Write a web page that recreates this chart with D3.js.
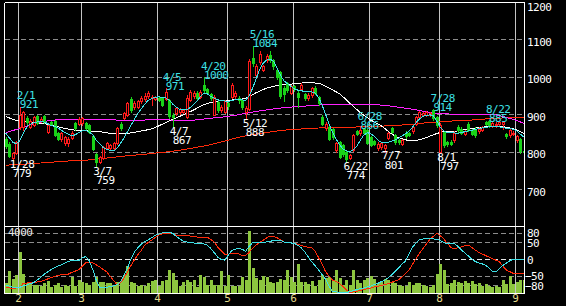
<!DOCTYPE html>
<html><head><meta charset="utf-8">
<script src="https://cdn.jsdelivr.net/npm/d3@7"></script>
<style>html,body{margin:0;padding:0;background:#000;overflow:hidden}svg{display:block}</style>
</head><body><svg id="c" width="566" height="306"></svg>
<script>
// ---- DATA ----
const tradingDays = [
  [1,[26,27,28,31]],
  [2,[1,2,3,4,7,8,9,10,14,15,16,17,18,21,22,24,25,28]],
  [3,[1,2,3,4,7,8,9,10,11,14,15,16,17,18,22,23,24,25,28,29,30,31]],
  [4,[1,4,5,6,7,8,11,12,13,14,15,18,19,20,21,22,25,26,27,28]],
  [5,[2,6,9,10,11,12,13,16,17,18,19,20,23,24,25,26,27,30,31]],
  [6,[1,2,3,6,7,8,9,10,13,14,15,16,17,20,21,22,23,24,27,28,29,30]],
  [7,[1,4,5,6,7,8,11,12,13,14,15,19,20,21,22,25,26,27,28,29]],
  [8,[1,2,3,4,5,8,9,10,12,15,16,17,18,19,22,23,24,25,26,29,30,31]],
  [9,[1,2,5]]
];
const open = [835,822,785,797,868,866,890,867,872,896,883,896,853,880,882,850,835,823,825,838,877,875,
 877,877,872,843,795,774,784,812,810,812,824,875,891,899,941,919,921,935,941,949,945,942,
 945,943,942,940,900,904,906,908,892,939,950,958,948,980,968,955,900,934,912,908,
 930,947,950,945,939,907,915,1050,1005,1040,1020,1045,1058,1045,1019,1014,970,985,958,
 975,958,968,955,944,952,970,947,894,863,867,862,805,827,819,800,784,806,855,850,862,860,
 840,830,812,814,810,838,864,845,832,822,852,850,855,874,892,898,898,899,912,894,
 800,854,826,828,832,866,862,848,876,858,862,855,858,880,882,870,872,874,876,849,845,848,832,836,804];
const close = [815,790,797,826,900,906,880,884,893,877,888,880,872,875,846,836,850,840,835,851,864,888,
 890,864,853,808,773,787,813,823,818,823,864,864,904,931,912,932,937,945,949,958,948,947,
 939,926,960,895,893,917,914,913,945,961,956,945,960,965,958,945,947,912,920,935,
 922,979,957,940,921,918,1042,1036,1030,1062,1028,1056,1045,1028,1001,950,955,965,975,
 968,947,979,944,952,970,958,930,876,876,836,840,823,787,795,780,792,845,848,860,852,825,
 818,822,822,824,818,850,853,826,826,833,842,845,867,893,906,905,906,905,890,872,
 872,818,820,822,852,858,852,855,860,848,845,862,866,876,872,878,876,880,879,843,859,852,842,802,800];
const high = [840,826,800,830,921,910,895,888,897,900,892,900,876,884,885,853,853,843,840,855,880,892,
 893,880,875,846,798,790,816,827,822,827,866,880,907,934,948,936,940,950,958,962,952,950,
 950,946,971,942,905,920,918,916,952,965,962,962,965,1000,972,958,952,937,924,940,
 935,985,962,950,942,922,1048,1084,1035,1068,1032,1060,1070,1048,1022,1016,975,988,980,
 980,962,983,958,956,974,975,950,898,880,870,865,826,830,822,805,796,848,860,866,865,863,
 843,833,826,828,822,853,867,848,835,836,855,853,870,896,910,908,909,908,914,897,
 878,857,830,832,856,872,866,858,880,862,866,866,870,884,885,882,880,884,884,852,863,856,845,838,808];
const low = [810,786,779,795,862,860,876,864,869,874,880,877,850,872,842,832,830,818,815,835,860,872,
 873,860,850,805,759,770,780,808,806,808,820,860,888,896,908,915,918,930,937,945,925,938,
 935,922,940,890,867,900,902,903,890,935,945,940,944,960,955,940,898,908,908,904,
 915,944,945,930,915,888,912,1030,1000,1035,1015,1040,1040,1022,995,945,935,960,955,
 962,921,965,940,940,948,955,926,872,860,832,836,800,784,790,774,780,803,845,846,848,820,
 815,818,805,808,801,835,850,822,822,818,838,842,852,871,888,895,895,896,886,868,
 797,814,816,818,828,854,848,845,856,844,841,850,855,872,868,866,868,870,862,838,840,844,828,798,796];
const volume = [645,1397,903,1182,2623,1247,645,688,537,537,473,645,752,387,537,645,387,537,473,1032,473,860,
 688,645,537,688,1032,688,688,645,645,473,688,752,1182,1720,688,645,473,537,473,645,752,817,
 473,752,860,1462,1290,860,473,688,817,688,817,387,1182,1032,537,860,537,537,1397,473,
 1182,473,473,473,1032,860,4020,1612,967,860,1075,1032,688,645,688,903,860,1462,1032,
 688,1892,688,688,602,752,473,860,1182,967,1032,860,1505,967,537,860,537,1505,860,645,817,967,
 1075,903,645,688,903,860,688,645,537,473,473,688,537,645,645,537,473,387,537,1247,
 1892,1505,602,645,817,688,645,752,645,752,602,645,473,602,473,387,473,387,817,602,1075,602,688,817,817];
// moving averages
const maShort = [850,838,826,822,830,850,866,874,878,880,881,880,876,871,868,864,858,852,847,843,846,852,
 856,858,853,846,832,822,812,807,804,803,810,823,838,854,871,888,903,916,928,938,943,946,
 947,946,944,938,928,920,914,912,913,918,926,936,948,957,955,948,943,939,937,936,
 935,937,940,940,939,938,950,970,995,1020,1036,1045,1048,1042,1025,1005,990,982,975,
 968,965,963,962,962,960,957,945,925,900,875,852,835,820,808,803,801,806,815,832,845,852,
 848,842,832,826,825,826,829,832,837,843,849,856,866,878,888,895,898,899,897,882,
 866,856,852,852,851,850,852,854,856,858,860,862,864,866,867,869,868,867,865,863,862,861,857,848,840];
const maSampleDays = [0,3,6,9,12,15,18,21,24,27,30,33,36,39,42,45,48,51,54,57,60,63,66,69,72,75,78,81,84,87,
 90,93,96,99,102,105,108,111,114,117,120,123,126,129,132,135,138,141,144,147,149];
const maMid = [895,884,880,878,874,867,861,857,856,854,850,849,851,856,862,874,887,899,912,926,
 934,938,939,944,958,970,977,980,983,985,983,970,955,930,905,885,870,848,835,830,
 835,846,854,855,860,864,867,869,866,859,850];
const maLong = [852,860,869,877,883,886,887,888,888,887,886,885,885,885,886,886,885,884,885,888,
 891,894,898,903,908,912,916,919,921,923,925,927,927,927,927,927,925,922,918,914,
 909,904,902,901,901,901,900,899,892,884,876];
const maVeryLong = [765,766,768,770,772,774,776,777,779,782,785,788,791,793,796,799,802,806,811,816,
 822,829,837,843,848,852,856,859,861,862,864,865,865,866,867,867,869,870,872,874,
 877,879,881,883,884,886,888,890,891,892,892];
// oscillators
const oscA = [-77,-80,-84,-84,-84,-80,-77,-73,-70,-62,-54,-45,-38,-31,-25,-20,-16,-11,-6,-2,
 -4,-3,5,9,-4,-30,-62,-84,-84,-84,-82,-80,-76,-67,-47,-25,2,23,36,47,
 54,60,66,73,77,80,83,82,79,70,62,56,53,51,50,49,48,47,43,33,
 20,7,0,-2,13,27,31,34,31,25,40,51,51,51,51,53,55,57,58,58,
 53,51,50,49,43,35,23,8,-7,-19,-32,-46,-60,-80,-97,-98,-99,-100,-100,-97,
 -94,-91,-88,-86,-83,-80,-76,-72,-67,-62,-55,-46,-36,-25,-14,-4,18,37,50,61,
 62,63,63,62,61,57,51,47,48,49,40,30,20,11,2,-6,-10,-13,-17,-26,
 -36,-37,-27,-18,-11,-4,1,1,1,1];
const oscB = [-84,-86,-87,-86,-84,-72,-71,-70,-70,-68,-66,-63,-59,-55,-51,-48,-46,-45,-44,-39,
 -35,-31,-20,-10,-8,-10,-16,-22,-30,-37,-50,-64,-76,-70,-56,-38,-18,-1,15,28,
 44,52,59,67,75,77,78,79,77,74,71,71,71,71,70,68,67,67,67,60,
 52,37,26,15,16,19,18,17,11,12,22,34,44,51,58,65,71,70,66,60,
 53,50,50,49,46,43,39,37,35,25,5,-15,-37,-50,-62,-67,-72,-82,-92,-100,
 -98,-96,-93,-91,-88,-86,-83,-81,-78,-76,-73,-69,-65,-61,-52,-42,-32,-14,2,19,
 33,47,61,70,79,72,62,49,37,32,35,38,41,44,37,29,22,17,12,7,
 2,-2,-7,-20,-32,-37,-42,-42,-42,-42];
const priceTicks = [1200,1100,1000,900,800,700];
const oscTicks = [80,50,0,-50,-80];
const highMarks = [["2/1",921],["4/5",971],["4/20",1000],["5/16",1084],["6/28",866],["7/28",914],["8/22",885]];
const lowMarks = [["1/28",779],["3/7",759],["4/7",867],["5/12",888],["6/22",774],["7/7",801],["8/1",797]];
const volumeLabel = "4000";

// ---- DERIVED ----
const dates = tradingDays.flatMap(([m, ds]) => ds.map(d => m + "/" + d));
const N = dates.length;
const monthStarts = tradingDays.slice(1).map(([m, ds]) => ({m, i: dates.indexOf(m + "/" + ds[0])}));

// ---- SCALES ----
const xb = d3.scaleBand().domain(d3.range(N)).range([4.1, 525.5]);
const bw = xb.bandwidth();
const cx = i => xb(i) + bw / 2;
const px = i => Math.round(cx(i));
const py = d3.scaleLinear().domain([600, 1200]).range([227, 2]);
const vy = d3.scaleLinear().domain([0, 4000]).range([293, 231]);
const oy = d3.scaleLinear().domain([-100, 100]).range([292.6, 226.4]);
const L = 4.5, R = 524.5, T = 2.5, MID = 226.5, B = 293.5;

const C = {red:"#ff1a1a", green:"#19d219", cyan:"#3ee0e6", white:"#ffffff",
  magenta:"#ff22ff", orange:"#ff2a0a", vol:"#8dc63f", grid:"#8c8c8c", month:"#c4c4c4", mlab:"#e6dc8c"};
const FONT = "DejaVu Sans Mono, monospace";
const FS = 11, LS = -0.5;

const svg = d3.select("#c");
svg.append("rect").attr("width", 566).attr("height", 306).attr("fill", "#000");
const defs = svg.append("defs");
defs.append("clipPath").attr("id","cp").append("rect").attr("x",L).attr("y",T).attr("width",R-L).attr("height",MID-T);
defs.append("clipPath").attr("id","cv").append("rect").attr("x",L).attr("y",MID).attr("width",R-L).attr("height",B-MID);

const g = svg.append("g").attr("shape-rendering", "crispEdges");

// grid
priceTicks.filter(p => p < 1200).forEach(p => {
  const y = Math.floor(py(p)) + 0.5;
  g.append("line").attr("x1", L).attr("x2", R).attr("y1", y).attr("y2", y)
    .attr("stroke", C.grid).attr("stroke-dasharray", "5,3");
});
oscTicks.forEach(v => {
  const y = Math.floor(oy(v)) + 0.5;
  g.append("line").attr("x1", L).attr("x2", R).attr("y1", y).attr("y2", y)
    .attr("stroke", v === 0 ? "#e8e8e8" : C.grid).attr("stroke-dasharray", "5,3");
});
// month lines
monthStarts.forEach(({i}) => {
  const x = Math.round(xb(i)) + 0.5;
  g.append("line").attr("x1", x).attr("x2", x).attr("y1", T).attr("y2", B).attr("stroke", C.month);
});

// volume
const gv = g.append("g").attr("clip-path", "url(#cv)");
volume.forEach((v, i) => {
  const y = Math.round(vy(v));
  gv.append("rect").attr("x", px(i) - 1).attr("y", y).attr("width", 3).attr("height", 293 - y).attr("fill", C.vol);
});
// oscillator lines
const oline = d3.line().x((d, i) => cx(i)).y(d => oy(d));
gv.append("path").attr("d", oline(oscB)).attr("fill", "none").attr("stroke", C.orange);
gv.append("path").attr("d", oline(oscA)).attr("fill", "none").attr("stroke", C.cyan);

// price panel
const gp = g.append("g").attr("clip-path", "url(#cp)");
const sline = d3.line().x(d => cx(d[0])).y(d => py(d[1])).curve(d3.curveMonotoneX);
const pairs = arr => maSampleDays.map((d, k) => [d, arr[k]]);
gp.append("path").attr("d", sline(pairs(maVeryLong))).attr("fill","none").attr("stroke", C.orange);
gp.append("path").attr("d", sline(pairs(maLong))).attr("fill","none").attr("stroke", C.magenta);
gp.append("path").attr("d", sline(pairs(maMid))).attr("fill","none").attr("stroke", C.white);

// candles
for (let i = 0; i < N; i++) {
  const up = close[i] >= open[i];
  const col = up ? C.red : C.green;
  const x = px(i);
  const yH = Math.round(py(high[i])), yL = Math.round(py(low[i]));
  const yT = Math.round(py(Math.max(open[i], close[i]))), yB = Math.round(py(Math.min(open[i], close[i])));
  gp.append("line").attr("x1", x + 0.5).attr("x2", x + 0.5).attr("y1", yH).attr("y2", yL + 1).attr("stroke", col);
  const h = Math.max(1, yB - yT);
  if (up) {
    gp.append("rect").attr("x", x - 0.5).attr("y", yT + 0.5).attr("width", 2).attr("height", h)
      .attr("fill", "#000").attr("stroke", col);
  } else {
    gp.append("rect").attr("x", x - 1).attr("y", yT).attr("width", 3).attr("height", h + 1).attr("fill", col);
  }
}
gp.append("path").attr("d", d3.line().x((d, i) => cx(i)).y(d => py(d))(maShort)).attr("fill","none").attr("stroke", C.cyan);

// borders
[[L, T, R, T], [L, T, L, B], [R, T, R, B], [L, MID, R, MID], [L, B, R, B]].forEach(([x1, y1, x2, y2]) =>
  g.append("line").attr("x1", x1).attr("y1", y1).attr("x2", x2).attr("y2", y2).attr("stroke", "#fff"));

// axes (right)
const ax1 = svg.append("g").attr("transform", "translate(524,2)")
  .call(d3.axisRight(py).tickValues(priceTicks).tickSize(0).tickPadding(3).tickFormat(d3.format("d")));
const ax2 = svg.append("g").attr("transform", "translate(524,0)")
  .call(d3.axisRight(oy).tickValues(oscTicks).tickSize(0).tickPadding(3).tickFormat(d3.format("d")));
[ax1, ax2].forEach(a => {
  a.select(".domain").remove();
  a.selectAll("text").attr("fill", "#fff").attr("font-family", FONT).attr("font-size", FS).attr("letter-spacing", LS);
});
ax1.selectAll("text").filter(d => d === 1200).attr("y", 2.5);
ax2.selectAll("text").attr("x", d => d < 0 ? 1 : 3);

// month labels
svg.append("g").selectAll("text").data(monthStarts).join("text")
  .attr("x", d => Math.round(xb(d.i)) + 0.5).attr("y", 302).attr("text-anchor", "middle")
  .attr("fill", C.mlab).attr("font-family", FONT).attr("font-size", FS).text(d => d.m);

svg.append("text").attr("x", 8).attr("y", 235.5).attr("fill", "#e8e8e8")
  .attr("font-family", FONT).attr("font-size", FS).attr("letter-spacing", LS).text(volumeLabel);

// high / low annotations (two lines in one text element)
const ann = svg.append("g").attr("font-family", FONT).attr("font-size", FS).attr("letter-spacing", LS);
highMarks.forEach(([d, v]) => {
  const i = dates.indexOf(d), x = cx(i), y = py(v);
  const t = ann.append("text").attr("fill", C.cyan);
  t.append("tspan").attr("x", x - 3).attr("y", y - 7.3).text(d);
  t.append("tspan").attr("x", x).attr("y", y + 1.8).text(v);
});
lowMarks.forEach(([d, v]) => {
  const i = dates.indexOf(d), x = cx(i), y = py(v);
  const t = ann.append("text").attr("fill", "#fff");
  t.append("tspan").attr("x", x - 3).attr("y", y + 7.8).text(d);
  t.append("tspan").attr("x", x).attr("y", y + 17).text(v);
});
</script></body></html>
